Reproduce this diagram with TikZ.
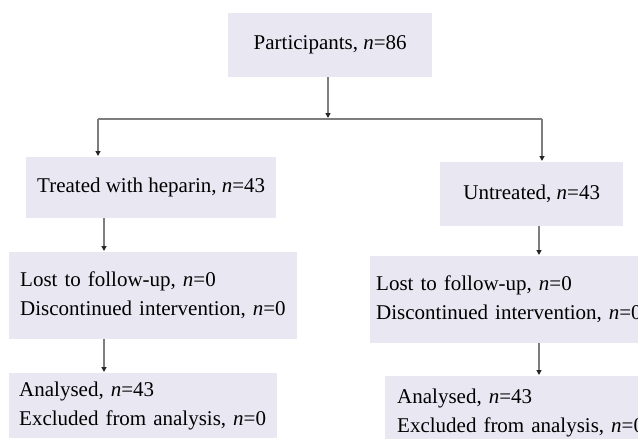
\documentclass[tikz,border=0pt]{standalone}
\usepackage{fontspec}
\setmainfont{Liberation Serif}
\usepackage{tikz}
\usetikzlibrary{arrows.meta}
\definecolor{boxfill}{RGB}{233,231,242}
\definecolor{linegray}{RGB}{125,125,125}

\begin{document}
\begin{tikzpicture}[x=1pt, y=-1pt, >={Triangle[length=5pt,width=5pt,color=black!85]}, font=\fontsize{21}{29}\selectfont]
                    % Define styles
                    \tikzstyle{block} = [rectangle, fill=boxfill, inner sep=0pt, anchor=north west]
                    \tikzstyle{centred} = [block, align=center]
                    \tikzstyle{listing} = [block, align=left, minimum height=87pt]
                    \tikzstyle{line} = [draw, linegray, line width=1.4pt]
                    \tikzstyle{arrow} = [line, ->, shorten >=1pt]

                    \useasboundingbox (0,0) rectangle (638,439);
                    \clip (0,0) rectangle (638,439);

                    % Nodes
                    \node [centred, minimum width=204pt, minimum height=64pt] (participants) at (228,13) {Participants, \textit{n}=86};
                    \node [centred, minimum width=250pt, minimum height=61pt] (treated) at (26,157) {Treated with heparin, \textit{n}=43};
                    \node [centred, minimum width=183pt, minimum height=64pt] (untreated) at (440,162) {Untreated, \textit{n}=43};
                    \node [listing, text width=266pt, inner xsep=11pt] (lost_t) at (9,252) {Lost to follow-up, \textit{n}=0\\Discontinued intervention, \textit{n}=0};
                    \node [listing, text width=290pt, inner xsep=6pt] (lost_u) at (370,256) {Lost to follow-up, \textit{n}=0\\Discontinued intervention, \textit{n}=0};
                    \node [listing, text width=248pt, inner xsep=10pt, minimum height=65pt] (analysed_t) at (9,373) {Analysed, \textit{n}=43\\Excluded from analysis, \textit{n}=0};
                    \node [listing, text width=260pt, inner xsep=12pt, minimum height=73pt] (analysed_u) at (385,376) {Analysed, \textit{n}=43\\Excluded from analysis, \textit{n}=0};

                    % Branch points
                    \coordinate (branch) at (328,119);
                    \coordinate (left_turn) at (98,119);
                    \coordinate (right_turn) at (542,119);
                    \coordinate (left_col) at (104,0);
                    \coordinate (right_col) at (539,0);

                    % Arrows
                    \draw [arrow] (participants.south -| branch) -- (branch);
                    \draw [line] (left_turn) -- (right_turn);
                    \draw [arrow] (left_turn) -- (left_turn |- treated.north);
                    \draw [arrow] (right_turn) -- (right_turn |- untreated.north);
                    \draw [arrow] (treated.south -| left_col) -- (lost_t.north -| left_col);
                    \draw [arrow] (lost_t.south -| left_col) -- (analysed_t.north -| left_col);
                    \draw [arrow] (untreated.south -| right_col) -- (lost_u.north -| right_col);
                    \draw [arrow] (lost_u.south -| right_col) -- (analysed_u.north -| right_col);
                \end{tikzpicture}
\end{document}
